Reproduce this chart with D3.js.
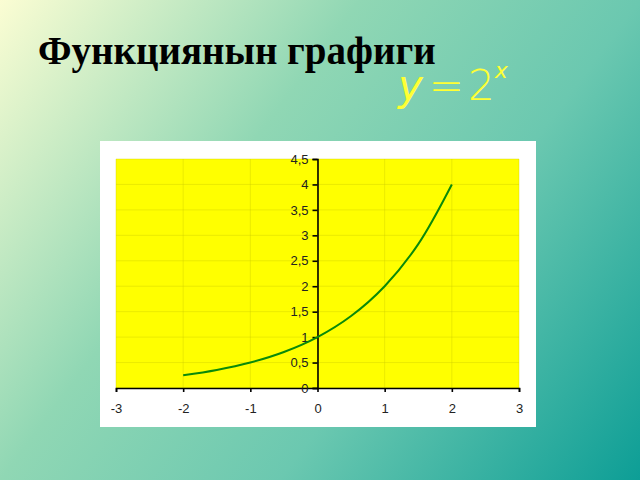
<!DOCTYPE html>
<html>
<head>
<meta charset="utf-8">
<script src="https://cdn.jsdelivr.net/npm/d3@7"></script>
<style>
  html, body { margin: 0; padding: 0; overflow: hidden; }
  svg { display: block; }
</style>
</head>
<body>
<svg id="chart" width="640" height="480"></svg>
<script>
// values
var xValues = [-2, -1.5, -1, -0.5, 0, 0.5, 1, 1.5, 2];
var yValues = [0.25, 0.354, 0.5, 0.707, 1, 1.414, 2, 2.828, 4];
var xTicks = [-3, -2, -1, 0, 1, 2, 3];
var yTicks = [0, 0.5, 1, 1.5, 2, 2.5, 3, 3.5, 4, 4.5];
var yTickLabels = ["0", "0,5", "1", "1,5", "2", "2,5", "3", "3,5", "4", "4,5"];
var titleText = "Функциянын графиги";

var svg = d3.select("#chart");

/* background gradient */
var defs = svg.append("defs");
var grad = defs.append("linearGradient")
    .attr("id", "bg")
    .attr("gradientUnits", "userSpaceOnUse")
    .attr("x1", 0).attr("y1", 0)
    .attr("x2", 640).attr("y2", 480);
grad.append("stop").attr("offset", 0).attr("stop-color", "#fbfdd3");
grad.append("stop").attr("offset", 0.36).attr("stop-color", "#90d7b4");
grad.append("stop").attr("offset", 0.64).attr("stop-color", "#6bc8b0");
grad.append("stop").attr("offset", 1).attr("stop-color", "#0d9e96");

svg.append("rect")
    .attr("width", 640).attr("height", 480)
    .attr("fill", "url(#bg)");

/* title + formula */
svg.append("text")
    .attr("x", 38).attr("y", 64)
    .style("font-family", "'Liberation Serif', 'Times New Roman', serif")
    .style("font-weight", "bold")
    .style("font-size", "39px")
    .attr("fill", "#000")
    .text(titleText);

var formula = svg.append("text")
    .attr("x", 398).attr("y", 100)
    .style("font-family", "'DejaVu Sans', sans-serif")
    .style("font-weight", 200)
    .style("font-size", "42px")
    .attr("fill", "#ffff33");
formula.append("tspan").style("font-style", "italic").text("y");
formula.append("tspan").attr("dx", 6).text("=");
formula.append("tspan").attr("dx", 4).text("2");
formula.append("tspan")
    .attr("dx", 0).attr("dy", -22)
    .style("font-style", "italic")
    .style("font-size", "22px")
    .text("x");

/* chart box */
svg.append("rect")
    .attr("x", 100).attr("y", 141)
    .attr("width", 436).attr("height", 286)
    .attr("fill", "#fff");

var x = d3.scaleLinear().domain([-3, 3]).range([116, 519]);
var y = d3.scaleLinear().domain([0, 4.5]).range([388, 159]);

var g = svg.append("g");

g.append("rect")
    .attr("x", x(-3)).attr("y", y(4.5))
    .attr("width", x(3) - x(-3))
    .attr("height", y(0) - y(4.5))
    .attr("fill", "#ffff00");

/* faint grid lines */
g.selectAll("vgrid")
  .data(xTicks)
  .enter().append("line")
    .attr("x1", function(d) { return x(d); })
    .attr("x2", function(d) { return x(d); })
    .attr("y1", y(0)).attr("y2", y(4.5))
    .style("stroke", "#c8c800")
    .style("stroke-width", 1)
    .style("opacity", 0.35);

g.selectAll("hgrid")
  .data(yTicks)
  .enter().append("line")
    .attr("x1", x(-3)).attr("x2", x(3))
    .attr("y1", function(d) { return y(d); })
    .attr("y2", function(d) { return y(d); })
    .style("stroke", "#c8c800")
    .style("stroke-width", 1)
    .style("opacity", 0.35);

/* axes */
var xAxis = d3.axisBottom(x)
    .tickValues(xTicks)
    .tickSize(4)
    .tickPadding(12)
    .tickFormat(d3.format("d"));

var yAxis = d3.axisLeft(y)
    .tickValues(yTicks)
    .tickSize(5)
    .tickPadding(4)
    .tickFormat(function(d, i) { return yTickLabels[i]; });

var gx = g.append("g")
    .attr("transform", "translate(0," + y(0) + ")")
    .call(xAxis);

var gy = g.append("g")
    .attr("transform", "translate(" + x(0) + ",0)")
    .call(yAxis);

[gx, gy].forEach(function(ax) {
  ax.select(".domain").attr("stroke", "#000").attr("stroke-width", 1.6);
  ax.selectAll(".tick line").attr("stroke", "#000").attr("stroke-width", 1.6);
  ax.selectAll(".tick text")
    .attr("fill", "#222")
    .style("font-family", "'Liberation Sans', Arial, sans-serif")
    .style("font-size", "13px");
});
gx.selectAll(".tick text").text(function(d) { return d < 0 ? "-" + Math.abs(d) : d; });

/* the curve */
var pts = xValues.map(function(d, i) { return [d, yValues[i]]; });
var line = d3.line()
    .x(function(d) { return x(d[0]); })
    .y(function(d) { return y(d[1]); })
    .curve(d3.curveCatmullRom);

g.append("path")
    .datum(pts)
    .attr("d", line)
    .style("fill", "none")
    .style("stroke", "#0a8a0a")
    .style("stroke-width", 2);
</script>
</body>
</html>
